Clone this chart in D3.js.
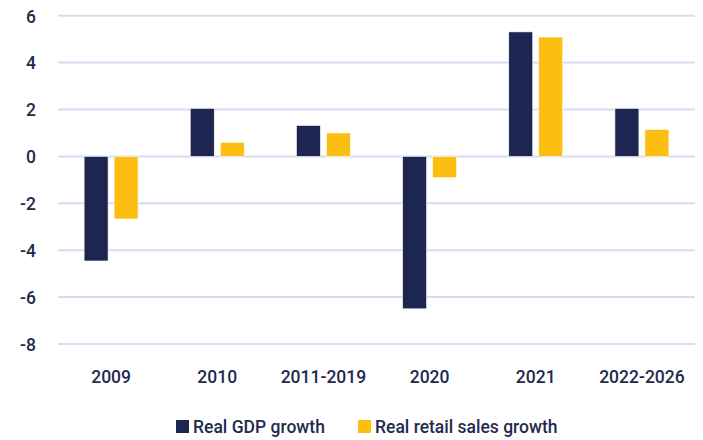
<!DOCTYPE html>
<html>
<head>
<meta charset="utf-8">
<script src="https://cdn.jsdelivr.net/npm/d3@7"></script>
<style>
  body { margin: 0; background: #fff; }
  svg text { font-family: Roboto, "DejaVu Sans Condensed", sans-serif; font-weight: 500; fill: #1f2a4f; }
</style>
</head>
<body>
<svg id="chart"></svg>
<script>
// Chart data
const categories = ["2009", "2010", "2011-2019", "2020", "2021", "2022-2026"];
const seriesNames = ["Real GDP growth", "Real retail sales growth"];
const gdpGrowth = [-4.46, 2.05, 1.32, -6.5, 5.31, 2.05];
const retailGrowth = [-2.67, 0.6, 1.0, -0.91, 5.09, 1.15];
const yTicks = [-8, -6, -4, -2, 0, 2, 4, 6];

const colors = ["#1c2650", "#fdbe12"];

const width = 703, height = 440;
const margin = { top: 15.7, right: 8, bottom: 96, left: 58 };

const svg = d3.select("#chart")
  .attr("width", width)
  .attr("height", height);

const rows = categories.map((c, i) => ({ cat: c, values: [gdpGrowth[i], retailGrowth[i]] }));

// Scales
const x = d3.scaleBand()
  .domain(categories)
  .range([margin.left, width - margin.right])
  .padding(0);

const x1 = d3.scaleBand()
  .domain([0, 1])
  .range([0, x.bandwidth()])
  .paddingInner(0.2)
  .paddingOuter(0.87);

const y = d3.scaleLinear()
  .domain([-8, 6])
  .range([height - margin.bottom, margin.top]);

// Gridlines
svg.append("g")
  .selectAll("line")
  .data(yTicks)
  .join("line")
  .attr("x1", margin.left)
  .attr("x2", width - margin.right)
  .attr("y1", d => y(d))
  .attr("y2", d => y(d))
  .attr("stroke", "#d7ddf1")
  .attr("stroke-width", 2);

// Y axis labels (plain hyphen for negatives)
const yAxis = d3.axisLeft(y).tickValues(yTicks).tickFormat(d => String(d)).tickSize(0).tickPadding(0);
svg.append("g")
  .attr("transform", `translate(${margin.left - 22},0)`)
  .call(yAxis)
  .call(g => g.select(".domain").remove())
  .selectAll("text")
  .style("font-size", "17.5px")
  .attr("dy", "0.36em");

// Bars
const groups = svg.append("g")
  .selectAll("g")
  .data(rows)
  .join("g")
  .attr("transform", d => `translate(${x(d.cat)},0)`);

groups.selectAll("rect")
  .data(d => d.values.map((v, i) => ({ v, i })))
  .join("rect")
  .attr("x", d => x1(d.i))
  .attr("width", x1.bandwidth())
  .attr("y", d => y(Math.max(0, d.v)))
  .attr("height", d => Math.abs(y(d.v) - y(0)))
  .attr("fill", d => colors[d.i])
  .attr("stroke", "#ffffff")
  .attr("stroke-width", 0.6);

// X axis labels
const xAxis = d3.axisBottom(x).tickSize(0).tickPadding(0);
svg.append("g")
  .attr("transform", `translate(0,${height - 57})`)
  .call(xAxis)
  .call(g => g.select(".domain").remove())
  .selectAll("text")
  .style("font-size", "17.5px")
  .attr("dy", 0);

// Legend
const legendX = [176, 358];
const legend = svg.append("g")
  .selectAll("g")
  .data(seriesNames)
  .join("g")
  .attr("transform", (d, i) => `translate(${legendX[i]},420)`);

legend.append("rect")
  .attr("width", 13)
  .attr("height", 13)
  .attr("fill", (d, i) => colors[i]);

legend.append("text")
  .attr("x", 17)
  .attr("y", 13)
  .style("font-size", "17.5px")
  .text(d => d);
</script>
</body>
</html>
